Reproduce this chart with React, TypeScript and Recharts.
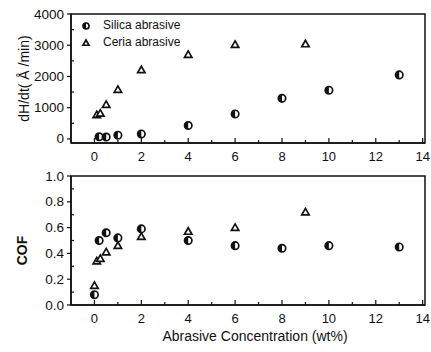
import React from 'react';
import { ScatterChart, Scatter, XAxis, YAxis, ReferenceArea } from 'recharts';

// removal rate panel (top)
const silicaRateX = [0.2, 0.5, 1, 2, 4, 6, 8, 10, 13];
const silicaRate = [70, 60, 120, 160, 430, 800, 1300, 1560, 2050];
const ceriaRateX = [0.1, 0.25, 0.5, 1, 2, 4, 6, 9];
const ceriaRate = [770, 820, 1100, 1580, 2210, 2700, 3020, 3040];

// friction panel (bottom)
const silicaCofX = [0, 0.2, 0.5, 1, 2, 4, 6, 8, 10, 13];
const silicaCof = [0.08, 0.5, 0.56, 0.52, 0.59, 0.5, 0.46, 0.44, 0.46, 0.45];
const ceriaCofX = [0, 0.1, 0.25, 0.5, 1, 2, 4, 6, 9];
const ceriaCof = [0.15, 0.34, 0.36, 0.41, 0.46, 0.53, 0.57, 0.6, 0.72];

const xTicks = [0, 1, 2, 3, 4, 5, 6, 7, 8, 9, 10, 11, 12, 13, 14];
const rateTicks = [0, 500, 1000, 1500, 2000, 2500, 3000, 3500, 4000];
const cofTicks = [0, 0.1, 0.2, 0.3, 0.4, 0.5, 0.6, 0.7, 0.8, 0.9, 1.0];

const X_MIN = -1;
const X_MAX = 14.1;

const FONT = '"Liberation Sans", Arial, sans-serif';
const INK = '#111';

const zip = (xs: number[], ys: number[]) => xs.map((x, i) => ({ x, y: ys[i] }));

const CircleMark: React.FC<any> = ({ cx, cy, r = 3.7 }) => {
    if (cx == null || cy == null) return null;
    return (
        <g>
            <circle cx={cx} cy={cy} r={r} fill="#fff" stroke={INK} strokeWidth={1.7} />
            <path d={`M${cx},${cy - r} A${r},${r} 0 0 0 ${cx},${cy + r} Z`} fill={INK} />
        </g>
    );
};

const TriangleMark: React.FC<any> = ({ cx, cy, s = 3.7 }) => {
    if (cx == null || cy == null) return null;
    return (
        <path
            d={`M${cx},${cy - s} L${cx + s},${cy + s * 0.75} L${cx - s},${cy + s * 0.75} Z`}
            fill="#fff"
            stroke={INK}
            strokeWidth={1.7}
        />
    );
};

const XTick: React.FC<any> = ({ x, y, payload }) => {
    const v = payload.value;
    const major = v % 2 === 0;
    return (
        <g>
            <line x1={x} x2={x} y1={y} y2={y - (major ? 5 : 3)} stroke={INK} strokeWidth={1.2} />
            {major && (
                <text x={x} y={y + 13} textAnchor="middle" dominantBaseline="central"
                    fontFamily={FONT} fontSize={13} fill={INK}>
                    {v}
                </text>
            )}
        </g>
    );
};

const makeYTick = (isMajor: (v: number) => boolean, fmt: (v: number) => string) => {
    const YTick: React.FC<any> = ({ x, y, payload }) => {
        const v = payload.value;
        const major = isMajor(v);
        return (
            <g>
                {major ? (
                    <line x1={x - 4} x2={x} y1={y} y2={y} stroke={INK} strokeWidth={1.2} />
                ) : (
                    <line x1={x} x2={x + 3} y1={y} y2={y} stroke={INK} strokeWidth={1.2} />
                )}
                {major && (
                    <text x={x - 7} y={y} textAnchor="end" dominantBaseline="central"
                        fontFamily={FONT} fontSize={13.5} fill={INK}>
                        {fmt(v)}
                    </text>
                )}
            </g>
        );
    };
    return YTick;
};

const RateTick = makeYTick(v => v % 1000 === 0, v => String(v));
const CofTick = makeYTick(v => Math.round(v * 10) % 2 === 0, v => v.toFixed(1));

const axisLine = { stroke: INK, strokeWidth: 1.5 };

const App: React.FC = () => {
    return (
        <div style={{ position: 'absolute', left: 0, top: 0, width: 431, height: 352, background: '#fff' }}>
            <ScatterChart width={431} height={170} margin={{ top: 14, right: 6, bottom: 0, left: 0 }}>
                <XAxis type="number" dataKey="x" domain={[X_MIN, X_MAX]} ticks={xTicks} interval={0}
                    height={27} tickSize={0} tickMargin={0} tickLine={false} axisLine={axisLine}
                    tick={<XTick />} allowDataOverflow />
                <YAxis type="number" dataKey="y" domain={[-130, 4000]} ticks={rateTicks} interval={0}
                    width={71} tickSize={0} tickMargin={0} tickLine={false} axisLine={axisLine}
                    tick={<RateTick />} allowDataOverflow
                    label={{
                        content: ({ viewBox }: any) => (
                            <text x={24} y={viewBox.y + viewBox.height / 2} textAnchor="middle"
                                dominantBaseline="central" transform={`rotate(-90 24 ${viewBox.y + viewBox.height / 2})`}
                                fontFamily={FONT} fontSize={14} fill={INK}>
                                dH/dt( Å /min)
                            </text>
                        ),
                    }} />
                <ReferenceArea x1={X_MIN} x2={X_MAX} y1={-130} y2={4000} fill="none" stroke={INK} strokeWidth={1.5} ifOverflow="visible" />
                <Scatter name="Silica abrasive" data={zip(silicaRateX, silicaRate)} shape={<CircleMark />} isAnimationActive={false} />
                <Scatter name="Ceria abrasive" data={zip(ceriaRateX, ceriaRate)} shape={<TriangleMark />} isAnimationActive={false} />
            </ScatterChart>

            <div style={{ position: 'absolute', left: 80, top: 17, fontFamily: FONT, fontSize: 12, color: INK, lineHeight: '17px' }}>
                {[
                    { label: 'Silica abrasive', Mark: CircleMark },
                    { label: 'Ceria abrasive', Mark: TriangleMark },
                ].map(({ label, Mark }) => (
                    <div key={label} style={{ display: 'flex', alignItems: 'center', height: 17 }}>
                        <svg width={12} height={14} style={{ marginRight: 11 }}>
                            <Mark cx={6} cy={7} r={3} s={3} />
                        </svg>
                        <span>{label}</span>
                    </div>
                ))}
            </div>

            <ScatterChart width={431} height={182} margin={{ top: 6, right: 6, bottom: 0, left: 0 }}>
                <XAxis type="number" dataKey="x" domain={[X_MIN, X_MAX]} ticks={xTicks} interval={0}
                    height={47} tickSize={0} tickMargin={0} tickLine={false} axisLine={axisLine}
                    tick={<XTick />} allowDataOverflow
                    label={{
                        content: ({ viewBox }: any) => (
                            <text x={viewBox.x + viewBox.width / 2 + 7} y={viewBox.y + 31} textAnchor="middle"
                                dominantBaseline="central" fontFamily={FONT} fontSize={14} fill={INK}>
                                Abrasive Concentration (wt%)
                            </text>
                        ),
                    }} />
                <YAxis type="number" dataKey="y" domain={[0, 1]} ticks={cofTicks} interval={0}
                    width={71} tickSize={0} tickMargin={0} tickLine={false} axisLine={axisLine}
                    tick={<CofTick />} allowDataOverflow
                    label={{
                        content: ({ viewBox }: any) => (
                            <text x={22} y={viewBox.y + viewBox.height / 2 + 10} textAnchor="middle"
                                dominantBaseline="central" transform={`rotate(-90 22 ${viewBox.y + viewBox.height / 2 + 10})`}
                                fontFamily={FONT} fontSize={14} fontWeight="bold" fill={INK}>
                                COF
                            </text>
                        ),
                    }} />
                <ReferenceArea x1={X_MIN} x2={X_MAX} y1={0} y2={1} fill="none" stroke={INK} strokeWidth={1.5} ifOverflow="visible" />
                <Scatter name="Silica abrasive" data={zip(silicaCofX, silicaCof)} shape={<CircleMark />} isAnimationActive={false} />
                <Scatter name="Ceria abrasive" data={zip(ceriaCofX, ceriaCof)} shape={<TriangleMark />} isAnimationActive={false} />
            </ScatterChart>
        </div>
    );
};

export default App;
